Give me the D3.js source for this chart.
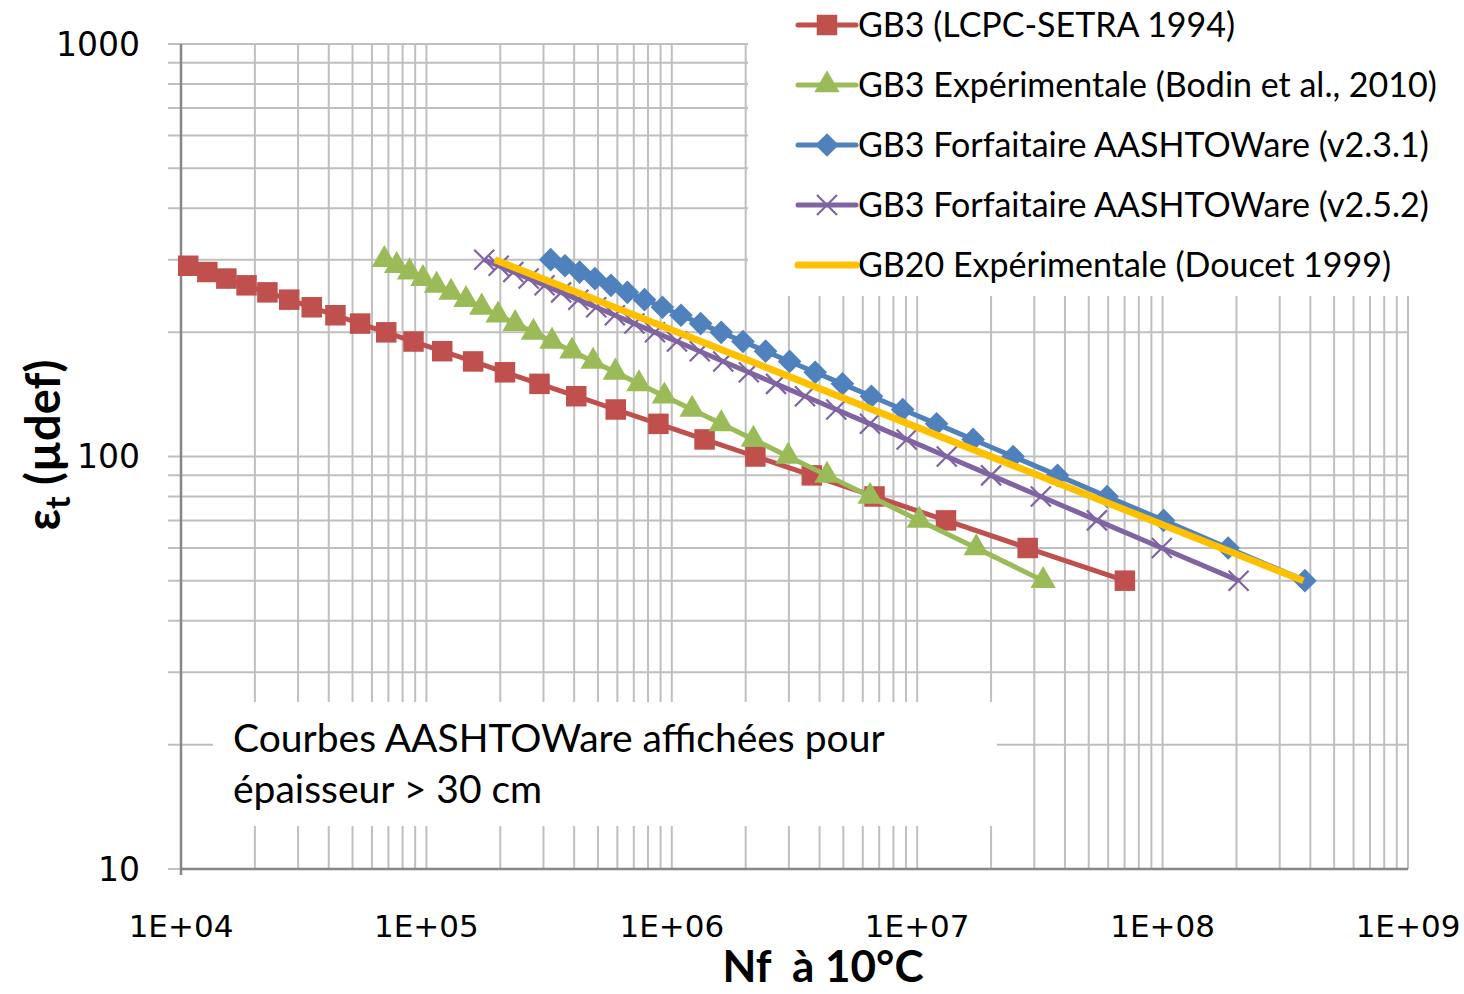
<!DOCTYPE html>
<html>
<head>
<meta charset="utf-8">
<script src="https://cdn.jsdelivr.net/npm/d3@7"></script>
<style>
  body { margin: 0; background: #fff; }
</style>
</head>
<body>
<div id="chart"></div>
<script>
// Fatigue curves : strain (µdef) vs number of cycles at 10°C

// Series data
const strainLcpc = [290, 280, 270, 260, 250, 240, 230, 220, 210, 200, 190, 180, 170, 160, 150, 140, 130, 120, 110, 100, 90, 80, 70, 60, 50]
const nLcpc = [1.07e4, 1.28e4, 1.53e4, 1.85e4, 2.25e4, 2.76e4, 3.41e4, 4.26e4, 5.37e4, 6.86e4, 8.86e4, 1.16e5, 1.55e5, 2.09e5, 2.89e5, 4.08e5, 5.91e5, 8.82e5, 1.36e6, 2.19e6, 3.72e6, 6.70e6, 1.31e7, 2.82e7, 7.02e7]

const strainSeries = [300, 290, 280, 270, 260, 250, 240, 230, 220, 210, 200, 190, 180, 170, 160, 150, 140, 130, 120, 110, 100, 90, 80, 70, 60, 50]
const nBodin = [6.74e4, 7.57e4, 8.54e4, 9.68e4, 1.10e5, 1.26e5, 1.45e5, 1.68e5, 1.96e5, 2.30e5, 2.73e5, 3.25e5, 3.92e5, 4.78e5, 5.89e5, 7.35e5, 9.33e5, 1.21e6, 1.59e6, 2.15e6, 2.98e6, 4.29e6, 6.43e6, 1.02e7, 1.74e7, 3.26e7]
const nAashto231 = [3.21e5, 3.67e5, 4.21e5, 4.86e5, 5.65e5, 6.59e5, 7.74e5, 9.16e5, 1.09e6, 1.31e6, 1.59e6, 1.95e6, 2.41e6, 3.02e6, 3.84e6, 4.96e6, 6.51e6, 8.73e6, 1.20e7, 1.69e7, 2.46e7, 3.73e7, 5.94e7, 1.01e8, 1.85e8, 3.80e8]
const nAashto252 = [1.72e5, 1.97e5, 2.26e5, 2.61e5, 3.03e5, 3.54e5, 4.16e5, 4.92e5, 5.86e5, 7.04e5, 8.54e5, 1.05e6, 1.30e6, 1.62e6, 2.06e6, 2.66e6, 3.49e6, 4.68e6, 6.42e6, 9.06e6, 1.32e7, 2.00e7, 3.19e7, 5.40e7, 9.93e7, 2.04e8]

const strainDoucet = [300, 50]
const nDoucet = [1.9e5, 3.75e8]

// Axis ticks
const xTickValues = [1e4, 1e5, 1e6, 1e7, 1e8, 1e9]
const xTickLabels = ['1E+04', '1E+05', '1E+06', '1E+07', '1E+08', '1E+09']
const yTickValues = [10, 100, 1000]
const yTickLabels = ['10', '100', '1000']

const legendLabels = [
  'GB3 (LCPC-SETRA 1994)',
  'GB3 Expérimentale (Bodin et al., 2010)',
  'GB3 Forfaitaire AASHTOWare (v2.3.1)',
  'GB3 Forfaitaire AASHTOWare (v2.5.2)',
  'GB20 Expérimentale (Doucet 1999)'
]

// Layout
var width = 1464
var height = 994
var plot = { left: 181, right: 1408, top: 44, bottom: 869 }
var gridColor = '#bfbfbf'
var axisColor = '#868686'

const xScale = d3.scaleLog()
  .domain([1e4, 1e9])
  .range([plot.left, plot.right])

const yScale = d3.scaleLog()
  .domain([10, 1000])
  .range([plot.bottom, plot.top])

var svg = d3.select('#chart')
  .append('svg')
  .attr('width', width)
  .attr('height', height)
  .style('font-family', 'Lato, "Noto Sans", sans-serif')

// Gridlines (major + minor)
svg.append('g')
  .selectAll('line')
  .data(xScale.ticks())
  .enter()
  .append('line')
  .attr('x1', d => xScale(d))
  .attr('x2', d => xScale(d))
  .attr('y1', plot.top)
  .attr('y2', plot.bottom)
  .attr('stroke', gridColor)
  .attr('stroke-width', 2)

svg.append('g')
  .selectAll('line')
  .data(yScale.ticks())
  .enter()
  .append('line')
  .attr('x1', plot.left - 13)
  .attr('x2', plot.right)
  .attr('y1', d => yScale(d))
  .attr('y2', d => yScale(d))
  .attr('stroke', gridColor)
  .attr('stroke-width', 2)

// Axis lines
svg.append('line')
  .attr('x1', plot.left).attr('x2', plot.left)
  .attr('y1', plot.top).attr('y2', plot.bottom + 6)
  .attr('stroke', axisColor)
  .attr('stroke-width', 2.5)

svg.append('line')
  .attr('x1', plot.left).attr('x2', plot.right)
  .attr('y1', plot.bottom).attr('y2', plot.bottom)
  .attr('stroke', axisColor)
  .attr('stroke-width', 2.5)

// Tick labels
svg.append('g')
  .selectAll('text')
  .data(yTickValues)
  .enter()
  .append('text')
  .attr('x', 140)
  .attr('y', d => yScale(d))
  .attr('dy', '0.36em')
  .attr('text-anchor', 'end')
  .style('font-family', '"DejaVu Sans", sans-serif')
  .style('font-size', '33px')
  .text((d, i) => yTickLabels[i])

svg.append('g')
  .selectAll('text')
  .data(xTickValues)
  .enter()
  .append('text')
  .attr('x', d => xScale(d))
  .attr('y', 937)
  .attr('text-anchor', 'middle')
  .style('font-family', '"DejaVu Sans", sans-serif')
  .style('font-size', '31px')
  .text((d, i) => xTickLabels[i])

// Axis titles
svg.append('text')
  .attr('x', 823)
  .attr('y', 982)
  .attr('text-anchor', 'middle')
  .style('font-size', '44px')
  .style('font-weight', 'bold')
  .style('white-space', 'pre')
  .text('Nf  à 10°C')

var yTitle = svg.append('text')
  .attr('transform', 'translate(60,445) rotate(-90)')
  .attr('text-anchor', 'middle')
  .style('font-size', '47px')
  .style('font-weight', 'bold')
yTitle.append('tspan').text('ε')
yTitle.append('tspan').attr('dy', 10).style('font-size', '34px').text('t')
yTitle.append('tspan').attr('dy', -10).text(' (µdef)')

// White boxes for legend and note (hide the grid)
svg.append('rect')
  .attr('x', 748).attr('y', 0)
  .attr('width', width - 748).attr('height', 296)
  .attr('fill', '#fff')

svg.append('rect')
  .attr('x', 213).attr('y', 702)
  .attr('width', 784).attr('height', 124)
  .attr('fill', '#fff')

svg.append('text')
  .attr('x', 233).attr('y', 752)
  .style('font-size', '39px')
  .text('Courbes AASHTOWare affichées pour')

svg.append('text')
  .attr('x', 233).attr('y', 803)
  .style('font-size', '39px')
  .text('épaisseur > 30 cm')

// Series
var series = [
  { strain: strainLcpc, n: nLcpc, color: '#c0504d', marker: 'square', width: 5 },
  { strain: strainSeries, n: nBodin, color: '#9bbb59', marker: 'triangle', width: 5 },
  { strain: strainSeries, n: nAashto231, color: '#4f81bd', marker: 'diamond', width: 5 },
  { strain: strainSeries, n: nAashto252, color: '#8064a2', marker: 'cross', width: 5 },
  { strain: strainDoucet, n: nDoucet, color: '#ffc000', marker: 'none', width: 7 }
]

const line = d3.line()
  .x(d => xScale(d[0]))
  .y(d => yScale(d[1]))

function drawMarker(g, type, color) {
  if (type === 'square') {
    g.append('path').attr('d', d3.symbol(d3.symbolSquare, 420)()).attr('fill', color)
  } else if (type === 'triangle') {
    g.append('path').attr('d', d3.symbol(d3.symbolTriangle, 280)()).attr('fill', color)
  } else if (type === 'diamond') {
    g.append('path').attr('d', d3.symbol(d3.symbolSquare, 280)()).attr('transform', 'rotate(45)').attr('fill', color)
  } else if (type === 'cross') {
    g.append('path').attr('d', 'M-10,-10L10,10M-10,10L10,-10').attr('stroke', color).attr('stroke-width', 2.2)
  }
}

series.forEach(s => {
  var pts = s.n.map((v, i) => [v, s.strain[i]])
  svg.append('path')
    .datum(pts)
    .attr('d', line)
    .attr('fill', 'none')
    .attr('stroke', s.color)
    .attr('stroke-width', s.width)
    .attr('stroke-linejoin', 'round')
  if (s.marker !== 'none') {
    pts.forEach(p => {
      var g = svg.append('g').attr('transform', `translate(${xScale(p[0])},${yScale(p[1])})`)
      drawMarker(g, s.marker, s.color)
    })
  }
})

// Legend
series.forEach((s, i) => {
  var y = 25 + i * 60
  svg.append('line')
    .attr('x1', 798).attr('x2', 856)
    .attr('y1', y).attr('y2', y)
    .attr('stroke', s.color)
    .attr('stroke-width', s.width)
    .attr('stroke-linecap', 'round')
  if (s.marker !== 'none') {
    var g = svg.append('g').attr('transform', `translate(827,${y})`)
    drawMarker(g, s.marker, s.color)
  }
  svg.append('text')
    .attr('x', 858)
    .attr('y', y)
    .attr('dy', '0.35em')
    .style('font-size', '34px')
    .text(legendLabels[i])
})
</script>
</body>
</html>
